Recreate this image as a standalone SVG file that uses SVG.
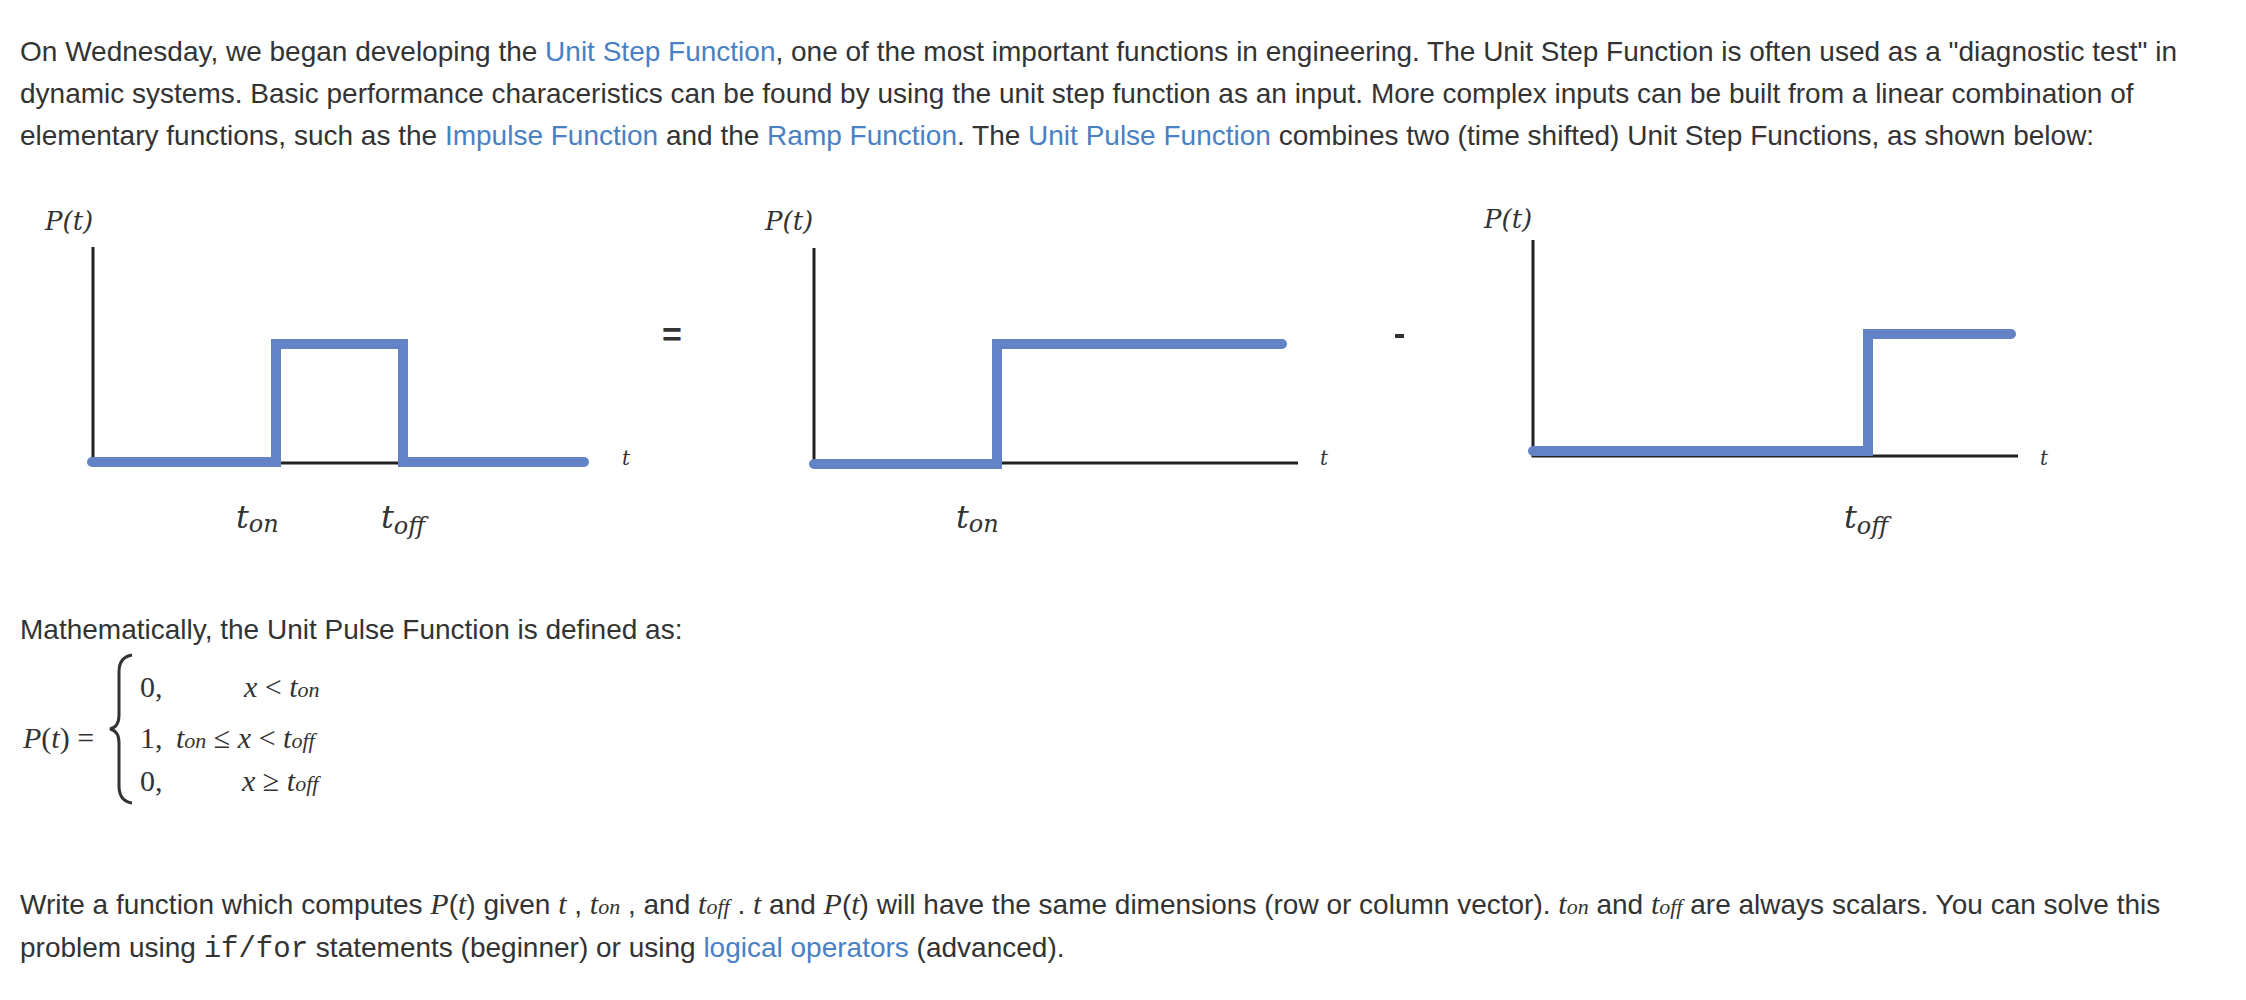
<svg xmlns="http://www.w3.org/2000/svg" width="2246" height="1000" viewBox="0 0 2246 1000">
<style>
.p{font-family:"Liberation Sans",Arial,sans-serif;font-size:28px;fill:#333}
.a{fill:#4a80c4}
.m{font-family:"Liberation Serif",serif;font-style:italic;font-size:30px}
.s{font-size:22px}
.mono{font-family:"Liberation Mono",monospace;font-size:29px}
.lbl{font-family:"DejaVu Serif","Liberation Serif",serif;font-style:italic;fill:#333}
.ax{stroke:#222;stroke-width:3;fill:none}
.sig{stroke:#6383c6;stroke-width:10;fill:none;stroke-linecap:round;stroke-linejoin:miter}
.eq{font-family:"Liberation Serif",serif;font-size:30px;fill:#333}
</style>
<rect width="2246" height="1000" fill="#fff"/>
<g id="intro" class="p">
<text x="20" y="61">On Wednesday, we began developing the <tspan class="a">Unit Step Function</tspan>, one of the most important functions in engineering. The Unit Step Function is often used as a "diagnostic test" in</text>
<text x="20" y="103">dynamic systems. Basic performance characeristics can be found by using the unit step function as an input. More complex inputs can be built from a linear combination of</text>
<text x="20" y="145">elementary functions, such as the <tspan class="a">Impulse Function</tspan> and the <tspan class="a">Ramp Function</tspan>. The <tspan class="a">Unit Pulse Function</tspan> combines two (time shifted) Unit Step Functions, as shown below:</text>
</g>
<g id="plot1">
<path class="ax" d="M93 247V463H584"/>
<path class="sig" d="M92 462H276V344H403V462H584"/>
<text class="lbl" x="45" y="230" font-size="26">P(t)</text>
<text class="lbl" x="622" y="465" font-size="20">t</text>
<text class="lbl" x="236" y="528" font-size="32">t<tspan font-size="24" dy="4">on</tspan></text>
<text class="lbl" x="381" y="528" font-size="32">t<tspan font-size="24" dy="6">off</tspan></text>
</g>
<g id="op-eq"><text x="672" y="346" font-family="Liberation Sans,sans-serif" font-size="34" font-weight="bold" fill="#333" text-anchor="middle">=</text></g>
<g id="plot2">
<path class="ax" d="M814 248V463H1298"/>
<path class="sig" d="M814 464H997V344H1282"/>
<text class="lbl" x="765" y="230" font-size="26">P(t)</text>
<text class="lbl" x="1320" y="465" font-size="20">t</text>
<text class="lbl" x="956" y="528" font-size="32">t<tspan font-size="24" dy="4">on</tspan></text>
</g>
<g id="op-minus"><rect x="1395" y="334" width="9" height="4" fill="#333"/></g>
<g id="plot3">
<path class="ax" d="M1533 240V456H2018"/>
<path class="sig" d="M1533 451H1868V334H2011"/>
<text class="lbl" x="1484" y="228" font-size="26">P(t)</text>
<text class="lbl" x="2040" y="465" font-size="20">t</text>
<text class="lbl" x="1844" y="528" font-size="32">t<tspan font-size="24" dy="6">off</tspan></text>
</g>
<g id="def">
<text class="p" x="20" y="639">Mathematically, the Unit Pulse Function is defined as:</text>
<text class="eq" x="23" y="748"><tspan font-style="italic">P</tspan>(<tspan font-style="italic">t</tspan>) =</text>
<path d="M132 655 Q119 657 119 672 V715 Q119 727 110 729 Q119 731 119 743 V786 Q119 801 132 803" stroke="#333" stroke-width="3" fill="none"/>
<text class="eq" x="140" y="697">0,</text>
<text class="eq" x="244" y="697"><tspan font-style="italic">x</tspan> &lt; <tspan font-style="italic">t</tspan><tspan font-style="italic" font-size="22">on</tspan></text>
<text class="eq" x="140" y="748">1,</text>
<text class="eq" x="176" y="748"><tspan font-style="italic">t</tspan><tspan font-style="italic" font-size="22">on</tspan> ≤ <tspan font-style="italic">x</tspan> &lt; <tspan font-style="italic">t</tspan><tspan font-style="italic" font-size="22">off</tspan></text>
<text class="eq" x="140" y="791">0,</text>
<text class="eq" x="242" y="791"><tspan font-style="italic">x</tspan> ≥ <tspan font-style="italic">t</tspan><tspan font-style="italic" font-size="22">off</tspan></text>
</g>
<g id="task" class="p">
<text x="20" y="914">Write a function which computes <tspan class="m">P</tspan>(<tspan class="m">t</tspan>) given <tspan class="m">t</tspan> , <tspan class="m">t</tspan><tspan class="m s">on</tspan> , and <tspan class="m">t</tspan><tspan class="m s">off</tspan> . <tspan class="m">t</tspan>  and <tspan class="m">P</tspan>(<tspan class="m">t</tspan>) will have the same dimensions (row or column vector). <tspan class="m">t</tspan><tspan class="m s">on</tspan> and <tspan class="m">t</tspan><tspan class="m s">off</tspan> are always scalars. You can solve this</text>
<text x="20" y="957">problem using <tspan class="mono">if/for</tspan> statements (beginner) or using <tspan class="a">logical operators</tspan> (advanced).</text>
</g>
</svg>
